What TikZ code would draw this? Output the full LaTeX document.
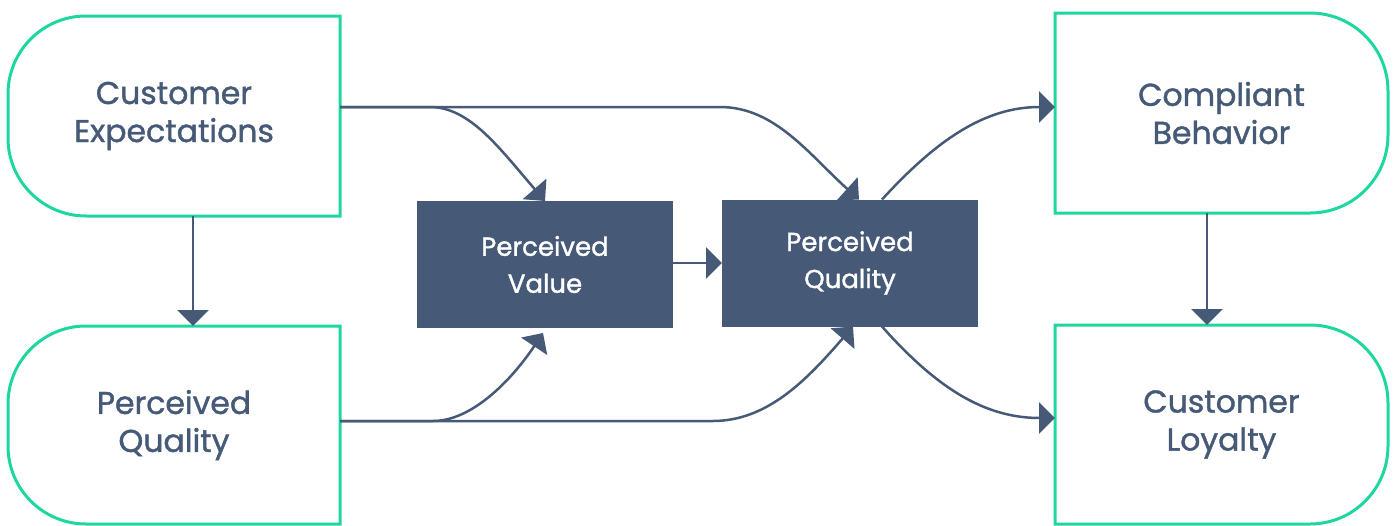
\documentclass[tikz,border=0pt]{standalone}
\usepackage{fontspec}
\setmainfont{Poppins}[FakeBold=1.3]
\usetikzlibrary{arrows.meta}

\definecolor{slate}{RGB}{70,90,120}
\definecolor{mint}{RGB}{30,215,160}

\tikzset{
  outbox/.style={minimum width=#1, inner sep=0pt, outer sep=0pt, align=center,
    text=slate, font=\fontsize{31.5}{38}\selectfont},
  darkbox/.style={fill=slate, minimum width=256pt, minimum height=127pt, inner sep=0pt,
    outer sep=0pt, align=center, text=white, font=\fontsize{26}{37}\selectfont},
  rim/.style={draw=mint, line width=3pt},
  link/.style={draw=slate, line width=2.5pt, -{Triangle[length=16pt,width=31pt]}}
}

% box with the two left corners rounded
\newcommand\leftcap[1]{%
  \draw[rim] (#1.south east) -- (#1.north east) -- ([xshift=78pt]#1.north west)
    arc[start angle=90,end angle=180,radius=78pt] -- ([yshift=78pt]#1.south west)
    arc[start angle=180,end angle=270,radius=78pt] -- cycle;}
% box with the two right corners rounded
\newcommand\rightcap[1]{%
  \draw[rim] (#1.south west) -- (#1.north west) -- ([xshift=-78pt]#1.north east)
    arc[start angle=90,end angle=0,radius=78pt] -- ([yshift=78pt]#1.south east)
    arc[start angle=0,end angle=-90,radius=78pt] -- cycle;}

\begin{document}
\begin{tikzpicture}[x=1pt,y=-1pt]
\useasboundingbox (0,0) rectangle (1398,525);

% outer boxes
\node[outbox=332pt, minimum height=200pt] (expect) at (174,116) {Customer\\Expectations};
\node[outbox=332pt, minimum height=198pt] (qualin) at (174,425) {Perceived\\Quality};
\node[outbox=333pt, minimum height=200pt] (comply) at (1221.5,113) {Compliant\\Behavior};
\node[outbox=333pt, minimum height=199pt] (loyal) at (1221.5,424.5) {Customer\\Loyalty};
\leftcap{expect}
\leftcap{qualin}
\rightcap{comply}
\rightcap{loyal}

% middle boxes
\node[darkbox] (value) at (545,264.5) {Perceived\\Value};
\node[darkbox] (qualmid) at (850,263) {Perceived\\Quality};

% links
\draw[link] ([xshift=19pt]expect.south) -- ([xshift=19pt]qualin.north);
\draw[link] ([xshift=-14.5pt]comply.south) -- ([xshift=-14.5pt]loyal.north);
\draw[link] (value.east |- qualmid.west) -- (qualmid.west);

\draw[link] ([yshift=9pt]expect.east) -- ++(90,0)
  .. controls +(40,0) and +(-45,-52) .. (value.north);
\draw[link] ([yshift=9pt]expect.east) -- ++(380,0)
  .. controls +(55,0) and +(-50,-45) .. ([xshift=9pt]qualmid.north);
\draw[link] ([yshift=4pt]qualin.east) -- ++(93,0)
  .. controls +(40,0) and +(-30,45) .. ([shift={(-2pt,-5pt)}]value.south);
\draw[link] ([yshift=4pt]qualin.east) -- ++(373,0)
  .. controls +(55,0) and +(-45,52) .. ([xshift=3pt]qualmid.south);

\draw[link] ([xshift=32pt]qualmid.north)
  .. controls +(55,-60) and +(-70,0) .. ([yshift=6pt]comply.west);
\draw[link] ([xshift=32pt]qualmid.south)
  .. controls +(55,62) and +(-70,0) .. ([yshift=6.5pt]loyal.west);
\end{tikzpicture}
\end{document}
